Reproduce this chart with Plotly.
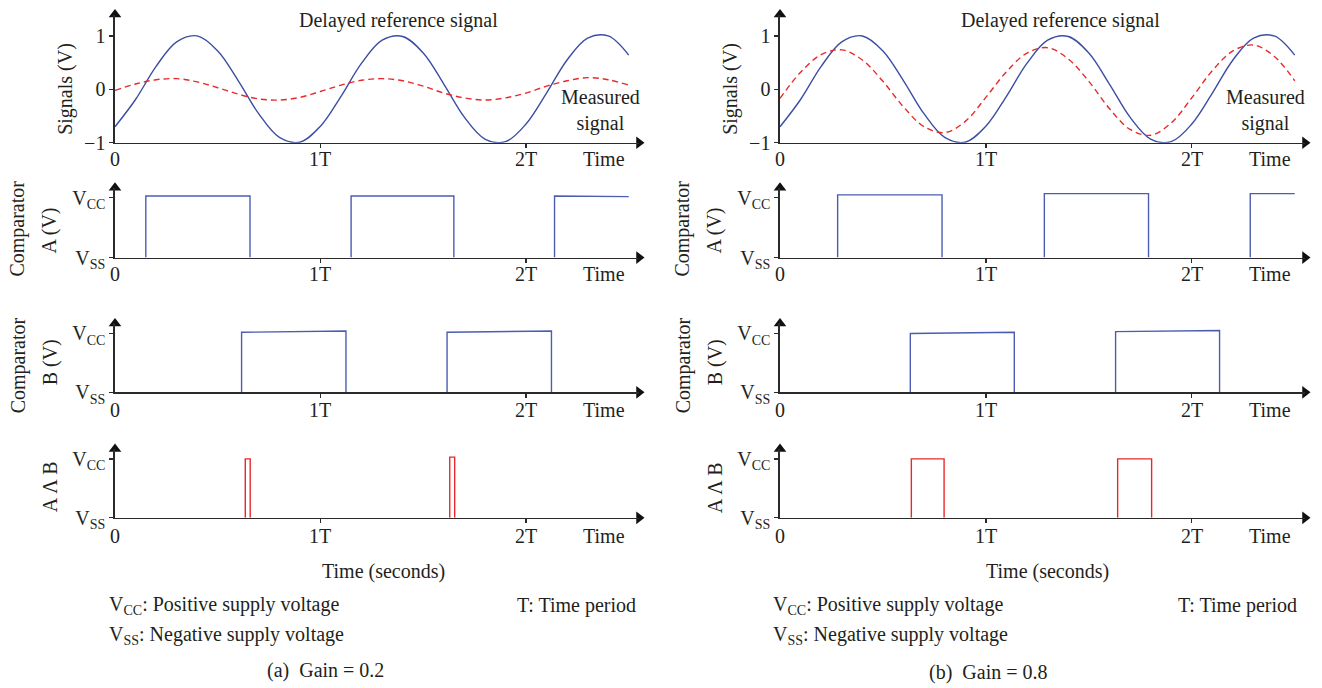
import plotly.graph_objects as go

W, H = 1322, 688
HV = 674.2  # effective vertical pixel extent of the photographed page

# ---------------- data ----------------
t = [0.0, 0.1, 0.2, 0.3, 0.4, 0.5, 0.6, 0.7, 0.8, 0.9, 1.0, 1.1, 1.2,
     1.3, 1.4, 1.5, 1.6, 1.7, 1.8, 1.9, 2.0, 2.1, 2.2, 2.3, 2.4, 2.5]
ref_signal = [-0.70, -0.19, 0.43, 0.89, 1.00, 0.72, 0.16, -0.46, -0.90, -0.99,
              -0.69, -0.13, 0.49, 0.92, 0.99, 0.68, 0.10, -0.52, -0.93, -0.98,
              -0.65, -0.07, 0.55, 0.96, 1.00, 0.64]
meas_gain02 = [-0.02, 0.10, 0.18, 0.20, 0.14, 0.03, -0.09, -0.18, -0.20, -0.15,
               -0.04, 0.08, 0.17, 0.20, 0.16, 0.06, -0.07, -0.16, -0.20, -0.16,
               -0.07, 0.06, 0.16, 0.22, 0.18, 0.08]
meas_gain08 = [-0.17, 0.32, 0.65, 0.74, 0.55, 0.15, -0.33, -0.70, -0.81, -0.60,
               -0.15, 0.33, 0.68, 0.78, 0.57, 0.15, -0.36, -0.75, -0.86, -0.63,
               -0.16, 0.35, 0.72, 0.83, 0.62, 0.16]

# comparator pulses: rise time, fall time (None = still high at end), level at start / end of pulse
compA_a_rise = [0.150, 1.149, 2.139]
compA_a_fall = [0.657, 1.649, None]
compA_a_lvl0 = [1.03, 1.03, 1.03]
compA_a_lvl1 = [1.03, 1.03, 1.02]
compA_a_end = 2.50

compB_a_rise = [0.616, 1.616]
compB_a_fall = [1.124, 2.124]
compB_a_lvl0 = [1.02, 1.02]
compB_a_lvl1 = [1.04, 1.04]
compB_a_end = 2.124

and_a_rise = [0.634, 1.629]
and_a_fall = [0.658, 1.653]
and_a_lvl0 = [1.00, 1.03]
and_a_lvl1 = [1.00, 1.03]
and_a_end = 1.653

compA_b_rise = [0.280, 1.284, 2.284]
compA_b_fall = [0.787, 1.790, None]
compA_b_lvl0 = [1.05, 1.07, 1.07]
compA_b_lvl1 = [1.05, 1.07, 1.07]
compA_b_end = 2.50

compB_b_rise = [0.633, 1.630]
compB_b_fall = [1.138, 2.135]
compB_b_lvl0 = [1.00, 1.03]
compB_b_lvl1 = [1.02, 1.05]
compB_b_end = 2.135

and_b_rise = [0.638, 1.640]
and_b_fall = [0.797, 1.805]
and_b_lvl0 = [1.00, 1.00]
and_b_lvl1 = [1.00, 1.00]
and_b_end = 1.805

x_ticks = [0, 1, 2]
x_ticktext = ["0", "1T", "2T"]
sig_ticks = [-1, 0, 1]
sig_ticktext = ["\u22121", "0", "1"]
cmp_ticks = [0, 1]
cmp_ticktext = ["V<sub>SS</sub>", "V<sub>CC</sub>"]

# ---------------- layout geometry ----------------
FONT = "Liberation Serif"
TXT = "#231f20"
AX = "#2a2a2a"
BLUE = "#3b4ea3"
BLUE2 = "#4a5db2"
RED = "#e8292b"

XMAX = 2.55
col_px = [(115, 639), (780, 1305)]
# (axis pixel row, top pixel, ymin, ymax)
rows = [(142, 13.6, -1, 1.4), (257, 187.0, 0, 1.17), (392, 323.0, 0, 1.17), (517.7, 448.7, 0, 1.17)]
xlab_y = [158, 273, 410, 536]


def px(v):
    return v / W


def py(v):
    return 1 - v / HV


def step(rises, falls, l0, l1, t_end):
    # pulses only; the low level lies on the time axis itself
    xs, ys = [], []
    for r, f, a, b in zip(rises, falls, l0, l1):
        if f is None:
            xs += [r, r, t_end, None]
            ys += [0.0, a, b, None]
        else:
            xs += [r, r, f, f, None]
            ys += [0.0, a, b, 0.0, None]
    return xs, ys


fig = go.Figure()
layout = dict(width=W, height=H, margin=dict(l=0, r=0, t=0, b=0),
              paper_bgcolor="white", plot_bgcolor="white", showlegend=False,
              font=dict(family=FONT, size=20, color=TXT))

annotations = []
for c in range(2):
    for r in range(4):
        k = r * 2 + c + 1
        xa = "xaxis" if k == 1 else f"xaxis{k}"
        ya = "yaxis" if k == 1 else f"yaxis{k}"
        xr = "x" if k == 1 else f"x{k}"
        yr = "y" if k == 1 else f"y{k}"
        axis_px, top_px, ymin, ymax = rows[r]
        layout[xa] = dict(domain=[px(col_px[c][0]), px(col_px[c][1])], range=[0, XMAX],
                          anchor=yr, showline=True, linecolor=AX, linewidth=1.6,
                          showgrid=False, zeroline=False, tickvals=[1, 2], ticks="outside",
                          ticklen=4, tickcolor=AX, tickwidth=1.3, showticklabels=False,
                          fixedrange=True, layer="above traces")
        if r == 0:
            tv, tt = sig_ticks, sig_ticktext
        else:
            tv, tt = cmp_ticks, cmp_ticktext
        layout[ya] = dict(domain=[py(axis_px), py(top_px)], range=[ymin, ymax],
                          anchor=xr, showline=True, linecolor=AX, linewidth=1.6,
                          showgrid=False, zeroline=False, tickvals=tv, ticktext=tt,
                          ticks="outside", ticklen=4, tickcolor=AX, tickwidth=1.3,
                          tickfont=dict(family=FONT, size=20, color=TXT), fixedrange=True,
                          layer="above traces")
        # arrow heads
        fig.add_trace(go.Scatter(x=[0, XMAX], y=[ymax, ymin], xaxis=xr, yaxis=yr, mode="markers",
                                 marker=dict(symbol=["triangle-up", "triangle-right"], size=11,
                                             color="#111111", line=dict(width=0)),
                                 cliponaxis=False, hoverinfo="skip"))
        # x tick labels + "Time"
        for tvv, ttt in zip(x_ticks, x_ticktext):
            annotations.append(dict(x=tvv, xref=xr, y=py(xlab_y[r]), yref="paper", text=ttt,
                                    showarrow=False, xanchor="center", yanchor="middle",
                                    font=dict(family=FONT, size=20, color=TXT)))
        annotations.append(dict(x=2.38, xref=xr, y=py(xlab_y[r]), yref="paper", text="Time",
                                showarrow=False, xanchor="center", yanchor="middle",
                                font=dict(family=FONT, size=20, color=TXT)))

# ---------------- traces ----------------
for c, meas in enumerate([meas_gain02, meas_gain08]):
    k = c + 1
    xr = "x" if k == 1 else f"x{k}"
    yr = "y" if k == 1 else f"y{k}"
    fig.add_trace(go.Scatter(x=t, y=ref_signal, xaxis=xr, yaxis=yr, mode="lines",
                             line=dict(color=BLUE, width=1.4, shape="spline"), hoverinfo="skip"))
    fig.add_trace(go.Scatter(x=t, y=meas, xaxis=xr, yaxis=yr, mode="lines",
                             line=dict(color=RED, width=1.4, shape="spline", dash="6px,4px"),
                             hoverinfo="skip"))

steps = [
    (3, step(compA_a_rise, compA_a_fall, compA_a_lvl0, compA_a_lvl1, compA_a_end), BLUE2),
    (5, step(compB_a_rise, compB_a_fall, compB_a_lvl0, compB_a_lvl1, compB_a_end), BLUE2),
    (7, step(and_a_rise, and_a_fall, and_a_lvl0, and_a_lvl1, and_a_end), RED),
    (4, step(compA_b_rise, compA_b_fall, compA_b_lvl0, compA_b_lvl1, compA_b_end), BLUE2),
    (6, step(compB_b_rise, compB_b_fall, compB_b_lvl0, compB_b_lvl1, compB_b_end), BLUE2),
    (8, step(and_b_rise, and_b_fall, and_b_lvl0, and_b_lvl1, and_b_end), RED),
]
for k, (xs, ys), col in steps:
    fig.add_trace(go.Scatter(x=xs, y=ys, xaxis=f"x{k}", yaxis=f"y{k}", mode="lines",
                             connectgaps=False, line=dict(color=col, width=1.4),
                             hoverinfo="skip"))


# ---------------- text ----------------
def txt(x, y, s, xanchor="center", angle=0, size=20):
    annotations.append(dict(x=px(x), y=py(y), xref="paper", yref="paper", text=s,
                            showarrow=False, xanchor=xanchor, yanchor="middle", textangle=angle,
                            font=dict(family=FONT, size=size, color=TXT)))


for c, off in enumerate([0, 665]):
    txt(66 + off, 88, "Signals (V)", angle=-90)
    txt(18 + off, 228, "Comparator", angle=-90)
    txt(50 + off, 230, "A (V)", angle=-90)
    txt(18 + off, 365, "Comparator", angle=-90)
    txt(50 + off, 362, "B (V)", angle=-90)
    txt(50 + off, 487, "A \u039b B", angle=-90)
    txt(398 + off * 0.996, 20, "Delayed reference signal")
    txt(600 + off, 110, "Measured<br>signal")
    txt(383 + off * 0.9985, 572, "Time (seconds)")
    txt(107 + off * 0.9985, 606, "V<sub>CC</sub>: Positive supply voltage", xanchor="left")
    txt(107 + off * 0.9985, 636, "V<sub>SS</sub>: Negative supply voltage", xanchor="left")
    txt(638 + off * 0.994, 606, "T: Time period", xanchor="right")

txt(325, 671, "(a)  Gain = 0.2")
txt(988, 673, "(b)  Gain = 0.8")

layout["annotations"] = annotations
fig.update_layout(**layout)
fig.write_html(
    "out.html",
    config={"displayModeBar": False, "staticPlot": True},
    post_script=("var d=document.getElementById('{plot_id}');"
                 "d.style.position='fixed';d.style.left='0px';d.style.top='0px';"
                 "document.body.style.margin='0px';document.body.style.overflow='hidden';"),
)
